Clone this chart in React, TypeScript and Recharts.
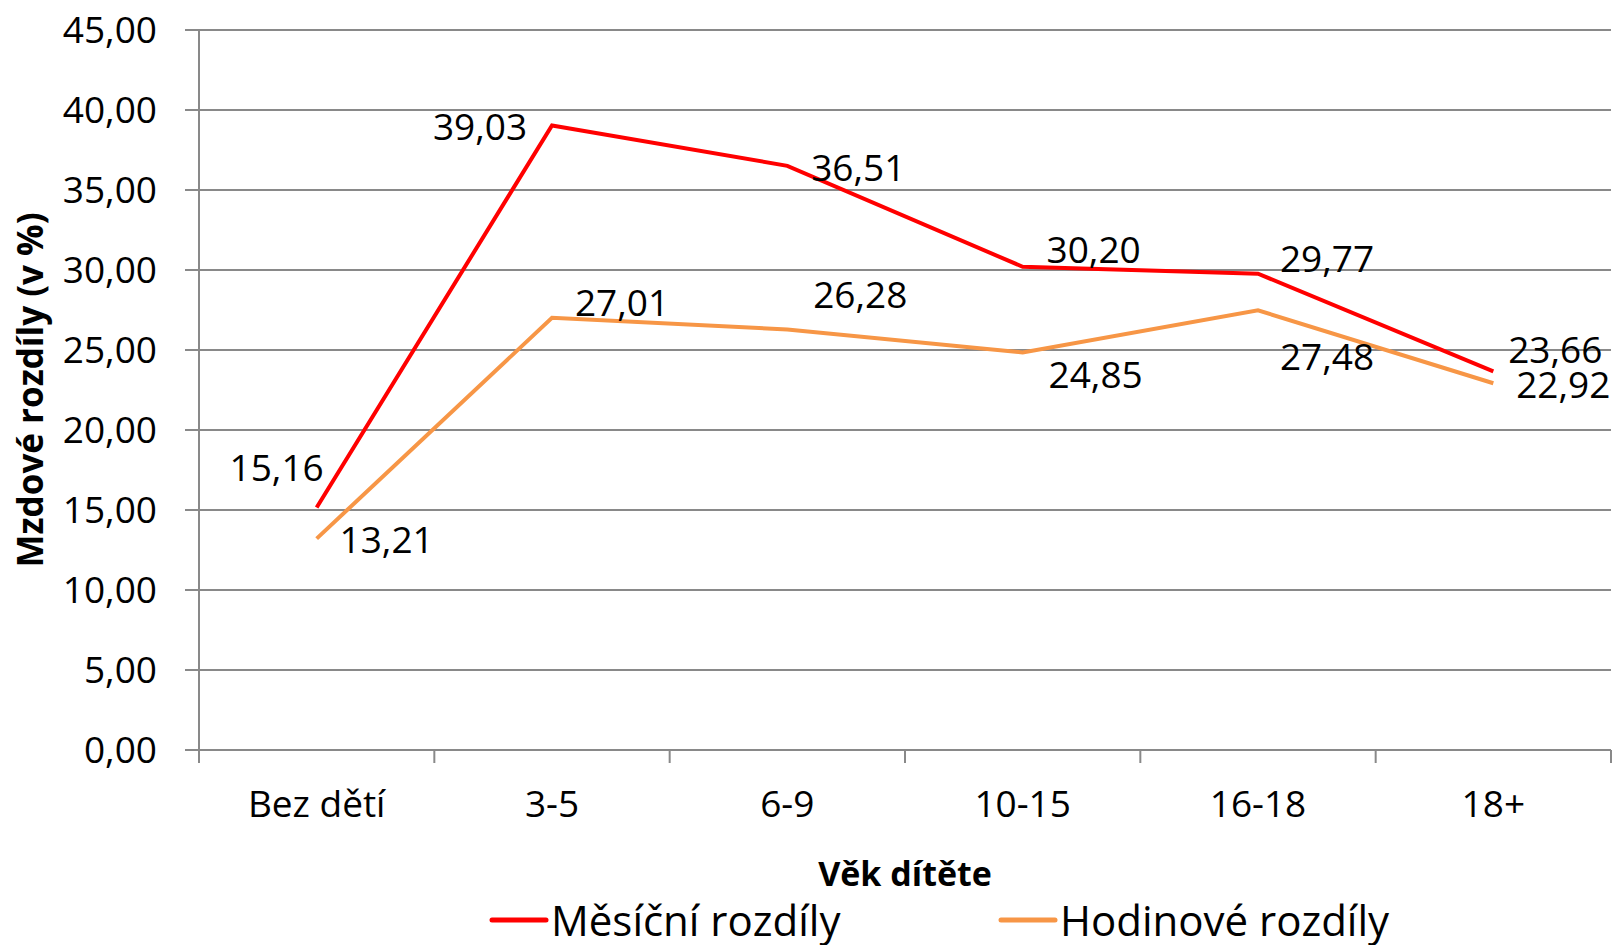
import React from 'react';
import { LineChart, Line, XAxis, YAxis, CartesianGrid, Legend, LabelList } from 'recharts';

const categories = ['Bez dětí', '3-5', '6-9', '10-15', '16-18', '18+'];
const mesicni = [15.16, 39.03, 36.51, 30.2, 29.77, 23.66];
const hodinove = [13.21, 27.01, 26.28, 24.85, 27.48, 22.92];
const yTicks = [0, 5, 10, 15, 20, 25, 30, 35, 40, 45];

const SERIES_M = 'Měsíční rozdíly';
const SERIES_H = 'Hodinové rozdíly';
const seriesOrder = [SERIES_M, SERIES_H];

// label placement offsets relative to each point (styling config)
const mesicniLabelOffsets: [number, number][] = [
  [-40, -41], [-72, 0], [71, 1], [71, -18], [69, -16], [62, -23],
];
const hodinoveLabelOffsets: [number, number][] = [
  [70, 0], [70, -16], [73, -36], [73, 21], [69, 45], [70, 0],
];

const data = categories.map((c, i) => ({ cat: c, m: mesicni[i], h: hodinove[i] }));

const FONT = '"Open Sans", sans-serif';
const GRID = '#898989';
const fmt = (v: number) => v.toFixed(2).replace('.', ',');

const makeLabel = (offsets: [number, number][]) => (props: any) => {
  const { x, y, value, index } = props;
  const [dx, dy] = offsets[index] || [0, 0];
  return (
    <text x={x + dx} y={y + dy} textAnchor="middle" dominantBaseline="central"
      fontFamily={FONT} fontSize={37} fill="#000">{fmt(Number(value))}</text>
  );
};

const TICK_SIZE = 13;
const TICK_MARGIN = 28;
const PLOT_LEFT = 199;
const PLOT_RIGHT = 1611;

const XTick = (props: any) => {
  const { x, y, payload, index } = props;
  const half = (PLOT_RIGHT - PLOT_LEFT) / categories.length / 2;
  const axisY = y - TICK_SIZE - TICK_MARGIN;
  return (
    <g>
      <line x1={x - half} x2={x - half} y1={axisY} y2={axisY + TICK_SIZE} stroke={GRID} strokeWidth={2} />
      {index === categories.length - 1 && (
        <line x1={x + half} x2={x + half} y1={axisY} y2={axisY + TICK_SIZE} stroke={GRID} strokeWidth={2} />
      )}
      <text x={x} y={y} dy="0.71em" textAnchor="middle" fontFamily={FONT} fontSize={37} fill="#000">
        {payload.value}
      </text>
    </g>
  );
};

const legendPositions = [492, 1001];

const LegendContent = (props: any) => {
  const payload = [...(props.payload || [])].sort(
    (a: any, b: any) => seriesOrder.indexOf(a.value) - seriesOrder.indexOf(b.value)
  );
  return (
    <svg width={1615} height={50} style={{ display: 'block', overflow: 'visible' }}>
      {payload.map((p: any, i: number) => {
        const lx = legendPositions[i] ?? 0;
        return (
          <g key={i}>
            <line x1={lx} x2={lx + 54} y1={25} y2={25} stroke={p.color} strokeWidth={5} strokeLinecap="round" />
            <text x={lx + 59} y={24} dominantBaseline="central" fontFamily={FONT} fontSize={42} fill="#000">
              {p.value}
            </text>
          </g>
        );
      })}
    </svg>
  );
};

export default function App() {
  return (
    <div style={{ position: 'absolute', left: 0, top: 0, width: 1615, height: 945, background: '#fff' }}>
      <LineChart width={1615} height={945} data={data}
        margin={{ top: 30, right: 4, bottom: 0, left: 0 }}>
        <CartesianGrid vertical={false} stroke={GRID} strokeWidth={2} />
        <XAxis dataKey="cat" scale="band" height={195} axisLine={{ stroke: GRID, strokeWidth: 2 }}
          tickLine={false} tickSize={TICK_SIZE} tickMargin={TICK_MARGIN} tick={<XTick />} interval={0}
          label={{ value: 'Věk dítěte', position: 'insideTop', offset: 112, fontFamily: FONT, fontSize: 34, fontWeight: 'bold', fill: '#000' }} />
        <YAxis domain={[0, 45]} ticks={yTicks} width={199} interval={0}
          axisLine={{ stroke: GRID, strokeWidth: 2 }}
          tickLine={{ stroke: GRID, strokeWidth: 2 }} tickSize={14} tickMargin={28}
          tickFormatter={fmt}
          tick={{ fontFamily: FONT, fontSize: 37, fill: '#000' }}
          label={{ value: 'Mzdové rozdíly (v %)', angle: -90, position: 'center', dx: -69, fontFamily: FONT, fontSize: 35, fontWeight: 'bold', fill: '#000' }} />
        <Legend layout="horizontal" verticalAlign="middle" align="center" content={<LegendContent />}
          wrapperStyle={{ position: 'absolute', left: 0, top: 895, width: 1615, height: 50 }} />
        <Line type="linear" dataKey="m" name={SERIES_M} stroke="#FF0000" strokeWidth={4} dot={false} isAnimationActive={false}>
          <LabelList dataKey="m" content={makeLabel(mesicniLabelOffsets)} />
        </Line>
        <Line type="linear" dataKey="h" name={SERIES_H} stroke="#F79646" strokeWidth={4} dot={false} isAnimationActive={false}>
          <LabelList dataKey="h" content={makeLabel(hodinoveLabelOffsets)} />
        </Line>
      </LineChart>
    </div>
  );
}
